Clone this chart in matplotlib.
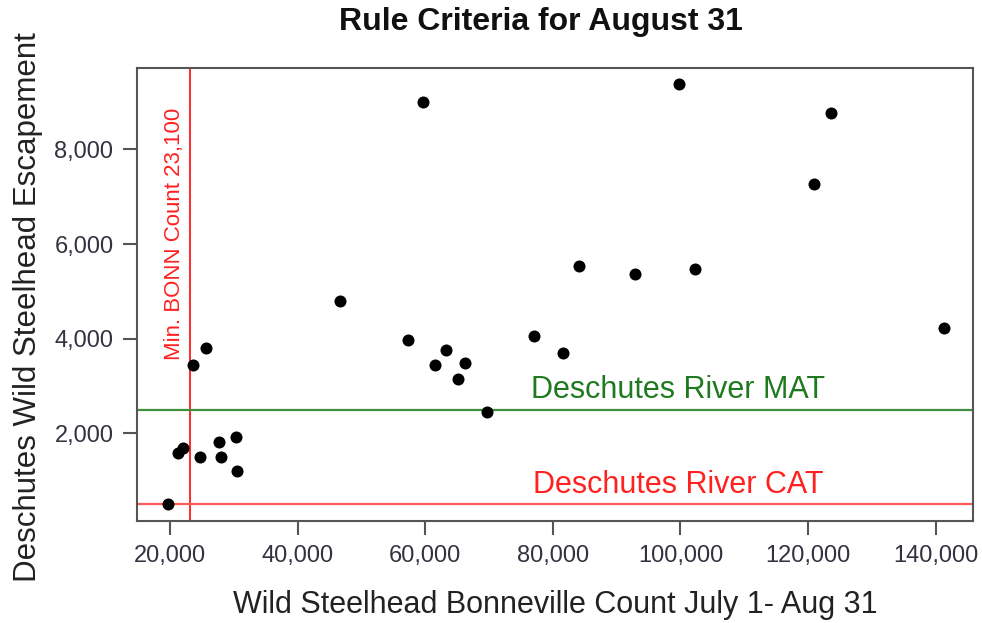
import matplotlib.pyplot as plt
from matplotlib.ticker import FuncFormatter

plt.rcParams['font.family'] = ['Liberation Sans', 'DejaVu Sans']

# Bonneville count (x) vs Deschutes escapement (y)
bonn = [19700, 21300, 22100, 23650, 25640, 24700, 27680, 27940, 30340, 30550,
        46650, 57370, 61550, 63200, 66170, 65080, 69630, 59720, 77100, 81630,
        84080, 92850, 99830, 102270, 120990, 123600, 141330]
desch = [500, 1590, 1680, 3440, 3800, 1490, 1810, 1490, 1920, 1200,
         4790, 3980, 3450, 3770, 3480, 3155, 2460, 8990, 4057, 3690,
         5536, 5367, 9375, 5466, 7275, 8775, 4232]

min_bonn = 23100
mat = 2500
cat = 500
xticks = [20000, 40000, 60000, 80000, 100000, 120000, 140000]
yticks = [2000, 4000, 6000, 8000]

fig = plt.figure(figsize=(9.82, 6.23), dpi=100)
ax = fig.add_axes([0.1395, 0.1637, 0.8513, 0.7271])

ax.scatter(bonn, desch, s=75, color='black', zorder=3, linewidths=0)
ax.axvline(min_bonn, color='#ff2a2a', lw=1.4)
ax.axhline(mat, color='#3f8f3f', lw=1.6)
ax.axhline(cat, color='#ff5a5a', lw=1.6)

ax.text(99600, 2740, 'Deschutes River MAT', color='#1f7a1f', fontsize=22,
        ha='center', va='baseline')
ax.text(99600, 740, 'Deschutes River CAT', color='#ff2020', fontsize=22,
        ha='center', va='baseline')
ax.text(22400, 6210, 'Min. BONN Count 23,100', color='#ff2020', fontsize=16,
        rotation=90, ha='right', va='center',
        family=['Liberation Sans Narrow', 'Liberation Sans', 'DejaVu Sans'])

ax.set_xlim(14830, 145860)
ax.set_ylim(148, 9718)
ax.set_xticks(xticks)
ax.set_yticks(yticks)
fmt = FuncFormatter(lambda v, p: f'{int(v):,}')
ax.xaxis.set_major_formatter(fmt)
ax.yaxis.set_major_formatter(fmt)
ax.tick_params(direction='out', length=10, width=1.5, color='#555555',
               labelsize=17, labelcolor='#333340', pad=7)
for sp in ax.spines.values():
    sp.set_color('#555555')
    sp.set_linewidth(1.5)

ax.set_xlabel('Wild Steelhead Bonneville Count July 1- Aug 31', fontsize=22,
              color='#222222', va='center')
ax.set_ylabel('Deschutes Wild Steelhead Escapement', fontsize=22.5,
              color='#222222', va='center')
ax.xaxis.set_label_coords(0.5, -0.185)
ax.yaxis.set_label_coords(-0.130, 0.472)
fig.text(0.551, 0.965, 'Rule Criteria for August 31', fontsize=23,
         fontweight='bold', color='#111111', ha='center', va='center')

fig.savefig('out.png', dpi=100)
